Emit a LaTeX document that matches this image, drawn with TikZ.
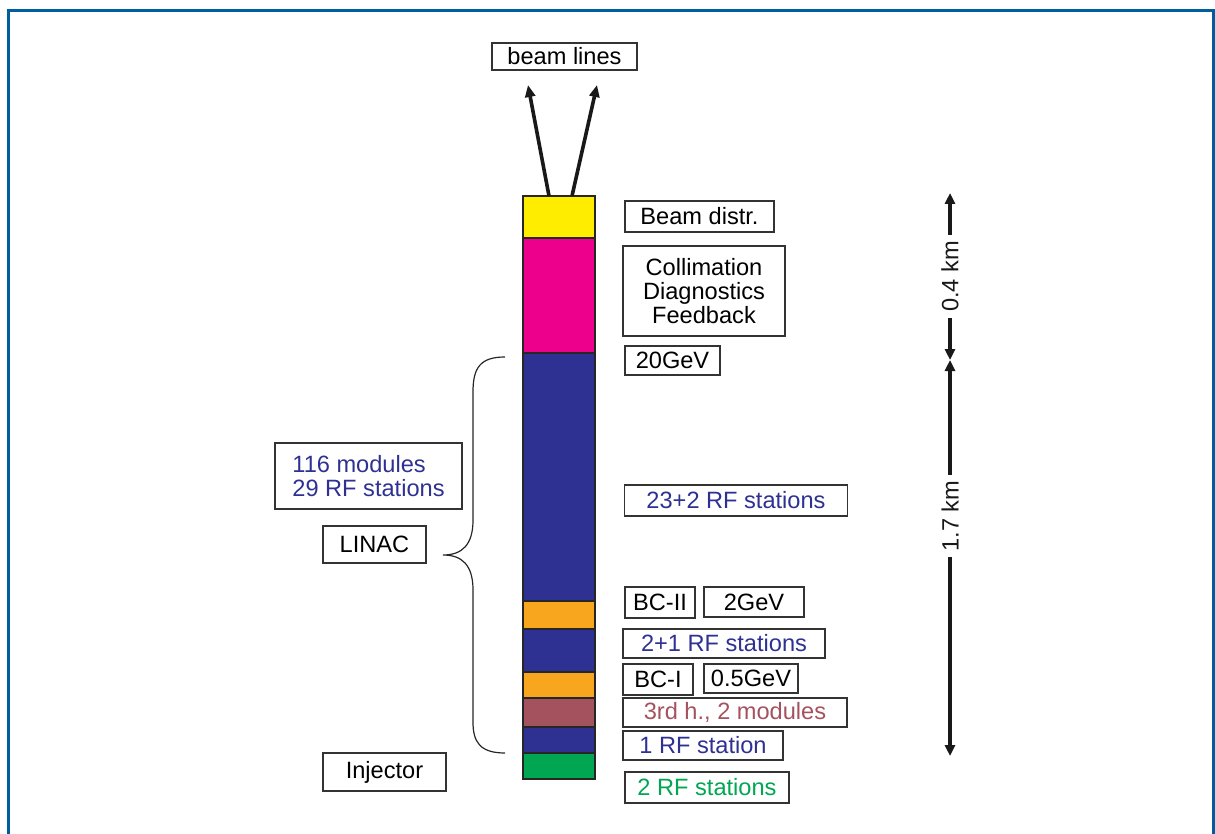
\documentclass[tikz,border=0pt]{standalone}
\usepackage{fontspec}
\setmainfont{Liberation Sans}
\usetikzlibrary{arrows.meta,positioning}

\definecolor{framecol}{RGB}{0,94,160}
\definecolor{distrcol}{RGB}{255,237,0}
\definecolor{collcol}{RGB}{236,0,140}
\definecolor{rfcol}{RGB}{46,49,146}
\definecolor{bccol}{RGB}{247,166,30}
\definecolor{harmcol}{RGB}{165,82,95}
\definecolor{injcol}{RGB}{0,166,81}

\begin{document}
\begin{tikzpicture}[x=0.5pt,y=-0.5pt,>={Triangle[length=6pt,width=5pt]},font=\fontsize{11.8}{12}\selectfont]
            \tikzstyle{seg}=[rectangle,draw=black!85,line width=1.3pt,minimum width=36pt,inner sep=0pt,outer sep=0pt]
            \tikzstyle{info}=[rectangle,draw=black!80,line width=0.7pt,inner sep=0pt,align=center]
            \tikzstyle{beam}=[line width=1.8pt,black!90]
            \useasboundingbox (0,0) rectangle (1215,834);
            \draw[framecol,line width=1.5pt] (8.5,834) -- (8.5,10.5) -- (1213.5,10.5) -- (1213.5,834);
            % the machine, top to bottom
            \node[seg,fill=distrcol,minimum height=21pt](distr) at (559,217){};
            \node[seg,fill=collcol,minimum height=57.5pt,below=0pt of distr](coll){};
            \node[seg,fill=rfcol,minimum height=124pt,below=0pt of coll](main){};
            \node[seg,fill=bccol,minimum height=14pt,below=0pt of main](bc2){};
            \node[seg,fill=rfcol,minimum height=21.5pt,below=0pt of bc2](rf2){};
            \node[seg,fill=bccol,minimum height=13pt,below=0pt of rf2](bc1){};
            \node[seg,fill=harmcol,minimum height=14.5pt,below=0pt of bc1](harm){};
            \node[seg,fill=rfcol,minimum height=13pt,below=0pt of harm](rf1){};
            \node[seg,fill=injcol,minimum height=13pt,below=0pt of rf1](inj){};
            % beam lines
            \node[info,minimum width=72.5pt,minimum height=13.5pt](lines) at (564.5,56.5){beam lines};
            \coordinate (bl1) at (528,85);
            \coordinate (bl2) at (597,85);
            \draw[beam,->] ([xshift=-5pt]distr.north) -- (bl1);
            \draw[beam,->] ([xshift=6.5pt]distr.north) -- (bl2);
            % right side
            \node[info,minimum width=74.5pt,minimum height=15.5pt](tdistr) at (699.5,216.5){Beam distr.};
            \node[info,minimum width=81pt,minimum height=45pt](tcoll) at (704,291){Collimation\\Diagnostics\\Feedback};
            \node[info,minimum width=47.5pt,minimum height=14.5pt](e20) at (672.5,360.5){20GeV};
            \node[info,minimum width=111.5pt,minimum height=15.5pt,text=rfcol](tmain) at (736,500.5){23+2 RF stations};
            \node[info,minimum width=35pt,minimum height=15.5pt](tbc2) at (660,602.5){BC-II};
            \node[info,minimum width=50pt,minimum height=15pt](e2) at (754,602){2GeV};
            \node[info,minimum width=101pt,minimum height=14.5pt,text=rfcol](trf2) at (724,643.5){2+1 RF stations};
            \node[info,minimum width=35pt,minimum height=15.5pt](tbc1) at (658,679.5){BC-I};
            \node[info,minimum width=47pt,minimum height=14.5pt](e05) at (751,678.5){0.5GeV};
            \node[info,minimum width=112pt,minimum height=14.5pt,text=harmcol](tharm) at (735,712.5){3rd h., 2 modules};
            \node[info,minimum width=80pt,minimum height=14.5pt,text=rfcol](trf1) at (703,745.5){1 RF station};
            \node[info,minimum width=82pt,minimum height=15.5pt,text=injcol](tinj) at (707,787.5){2 RF stations};
            % left side
            \node[info,minimum width=93.5pt,minimum height=33pt,align=left,text=rfcol](mods) at (368.5,476){116 modules\\29 RF stations};
            \node[info,minimum width=51.5pt,minimum height=18.5pt](linac) at (374.5,544.5){LINAC};
            \node[info,minimum width=61.5pt,minimum height=19pt](injector) at (384.5,772){Injector};
            \draw[black!85,line width=0.6pt] (505,357) .. controls (480,357) and (473,368) .. (473,392) -- (473,520)
                .. controls (473,545) and (462,555) .. (443,555) .. controls (462,555) and (473,565) .. (473,590)
                -- (473,722) .. controls (473,742) and (480,753) .. (505,753);
            % lengths
            \coordinate (dtop) at (950,193);
            \coordinate (dmid) at (950,360);
            \coordinate (dbot) at (950,756);
            \draw[line width=2pt,black!90,{Triangle[length=5.5pt,width=5pt]}-{Triangle[length=5.5pt,width=5pt]}] (dtop) -- node[fill=white,rotate=90,inner xsep=3pt,inner ysep=1pt](km04){0.4 km} (dmid);
            \draw[line width=2pt,black!90,{Triangle[length=5.5pt,width=5pt]}-{Triangle[length=5.5pt,width=5pt]}] (dmid) -- node[pos=0.394,fill=white,rotate=90,inner xsep=3pt,inner ysep=1pt](km17){1.7 km} (dbot);
        \end{tikzpicture}
\end{document}
